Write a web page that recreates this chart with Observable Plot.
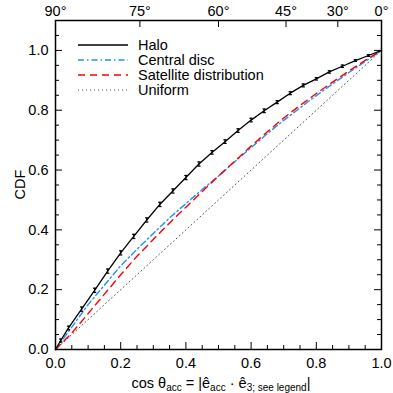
<!DOCTYPE html>
<html><head><meta charset="utf-8">
<script src="https://cdn.jsdelivr.net/npm/d3@7"></script>
<script src="https://cdn.jsdelivr.net/npm/@observablehq/plot@0.6"></script>
<style>body{margin:0;background:#fff}</style>
</head><body><div id="chart"></div>
<script>
// ---- data ----
const haloX = [0, 0.016, 0.04, 0.08, 0.12, 0.16, 0.20, 0.24, 0.28, 0.32, 0.36, 0.40, 0.44, 0.48, 0.52, 0.56, 0.60, 0.64, 0.68, 0.72, 0.76, 0.80, 0.84, 0.88, 0.92, 0.96, 1.0];
const haloY = [0, 0.030, 0.072, 0.135, 0.198, 0.262, 0.323, 0.378, 0.433, 0.485, 0.530, 0.575, 0.620, 0.659, 0.695, 0.732, 0.767, 0.798, 0.827, 0.857, 0.883, 0.905, 0.928, 0.947, 0.966, 0.983, 1.0];
const haloErr = [0, 0.005, 0.006, 0.007, 0.007, 0.007, 0.007, 0.007, 0.007, 0.007, 0.007, 0.007, 0.007, 0.006, 0.006, 0.006, 0.006, 0.006, 0.005, 0.005, 0.005, 0.004, 0.004, 0.004, 0.003, 0.003, 0];
const curveX = [0, 0.05, 0.10, 0.15, 0.20, 0.25, 0.30, 0.35, 0.40, 0.45, 0.50, 0.55, 0.60, 0.65, 0.70, 0.75, 0.80, 0.85, 0.90, 0.95, 1.0];
const discY = [0, 0.075, 0.150, 0.215, 0.280, 0.335, 0.388, 0.440, 0.488, 0.535, 0.580, 0.628, 0.675, 0.722, 0.766, 0.808, 0.849, 0.888, 0.926, 0.963, 1.0];
const satY  = [0, 0.055, 0.120, 0.185, 0.250, 0.312, 0.368, 0.423, 0.476, 0.528, 0.580, 0.630, 0.680, 0.728, 0.774, 0.816, 0.856, 0.894, 0.931, 0.967, 1.0];
const uniformX = [0, 1];
const uniformY = [0, 1];
const legendLabels = ["Halo", "Central disc", "Satellite distribution", "Uniform"];
const xMajor = [0, 0.2, 0.4, 0.6, 0.8, 1.0];
const xMinor = [0.05, 0.1, 0.15, 0.25, 0.3, 0.35, 0.45, 0.5, 0.55, 0.65, 0.7, 0.75, 0.85, 0.9, 0.95];
const yMajor = [0, 0.2, 0.4, 0.6, 0.8, 1.0];
const yMinor = [0.05, 0.1, 0.15, 0.25, 0.3, 0.35, 0.45, 0.5, 0.55, 0.65, 0.7, 0.75, 0.85, 0.9, 0.95, 1.05];
const topAngles = [90, 75, 60, 45, 30, 0];
const yLabel = "CDF";
const xLabelParts = [["cos θ", 0], ["acc", 1], [" = |ê", 0], ["acc", 1], [" · ê", 0], ["3; see legend", 1], ["|", 0]];

// ---- styling ----
const styles = [
  {stroke: "black", strokeWidth: 1.3, dash: null},
  {stroke: "#1e90ff", strokeWidth: 1.4, dash: "6,3,1.5,3"},
  {stroke: "#ff0000", strokeWidth: 1.4, dash: "7,5"},
  {stroke: "#555", strokeWidth: 1, dash: "1,3"}
];

const W = 393, H = 393, mL = 55, mR = 12, mT = 20, mB = 44;
const FH = H - mT - mB, FW = W - mL - mR;
const MAJ = 7, MIN = 4;
const FS = 14.5;

const halo = haloX.map((x, i) => ({x, y: haloY[i], e: haloErr[i]}));
const disc = curveX.map((x, i) => ({x, y: discY[i]}));
const sat = curveX.map((x, i) => ({x, y: satY[i]}));
const uni = uniformX.map((x, i) => ({x, y: uniformY[i]}));
const haloBars = halo.filter(d => d.e > 0);
const topTicks = topAngles.map(a => Math.cos(a * Math.PI / 180));

const chart = Plot.plot({
  width: W, height: H,
  marginLeft: mL, marginRight: mR, marginTop: mT, marginBottom: mB,
  x: {domain: [0, 1]},
  y: {domain: [0, 1.1]},
  style: {fontFamily: "'Liberation Sans', Arial, Helvetica, sans-serif", fontSize: FS + "px", color: "black", background: "white"},
  marks: [
    Plot.line(uni, {x: "x", y: "y", stroke: styles[3].stroke, strokeWidth: styles[3].strokeWidth, strokeDasharray: styles[3].dash}),
    Plot.line(disc, {x: "x", y: "y", stroke: styles[1].stroke, strokeWidth: styles[1].strokeWidth, strokeDasharray: styles[1].dash}),
    Plot.line(sat, {x: "x", y: "y", stroke: styles[2].stroke, strokeWidth: styles[2].strokeWidth, strokeDasharray: styles[2].dash}),
    Plot.line(halo, {x: "x", y: "y", stroke: styles[0].stroke, strokeWidth: styles[0].strokeWidth}),
    Plot.ruleX(haloBars, {x: "x", y1: d => d.y - d.e, y2: d => d.y + d.e, stroke: "black", strokeWidth: 1.2}),
    Plot.link(haloBars, {x1: d => d.x - 0.005, x2: d => d.x + 0.005, y1: d => d.y - d.e, y2: d => d.y - d.e, stroke: "black", strokeWidth: 1.2}),
    Plot.link(haloBars, {x1: d => d.x - 0.005, x2: d => d.x + 0.005, y1: d => d.y + d.e, y2: d => d.y + d.e, stroke: "black", strokeWidth: 1.2}),
    // inward ticks: bottom
    Plot.tickX(xMajor, {x: d => d, insetTop: FH - MAJ, stroke: "black"}),
    Plot.tickX(xMinor, {x: d => d, insetTop: FH - MIN, stroke: "black"}),
    // top
    Plot.tickX(topTicks, {x: d => d, insetBottom: FH - MAJ, stroke: "black"}),
    // left
    Plot.tickY(yMajor, {y: d => d, insetRight: FW - MAJ, stroke: "black"}),
    Plot.tickY(yMinor, {y: d => d, insetRight: FW - MIN, stroke: "black"}),
    // right
    Plot.tickY(yMajor, {y: d => d, insetLeft: FW - MAJ, stroke: "black"}),
    Plot.tickY(yMinor, {y: d => d, insetLeft: FW - MIN, stroke: "black"}),
    Plot.frame({stroke: "black", strokeWidth: 1.5}),
    Plot.axisX({anchor: "bottom", ticks: xMajor, tickSize: 0, tickPadding: 8, tickFormat: d3.format(".1f"), label: null}),
    Plot.axisX({anchor: "top", ticks: topTicks, tickSize: 0, tickPadding: 5, tickFormat: (d, i) => topAngles[i] + "°", label: null}),
    Plot.axisY({anchor: "left", ticks: yMajor, tickSize: 0, tickPadding: 7, tickFormat: d3.format(".1f"), label: null})
  ]
});

const svg = d3.select(chart);
const font = "'Liberation Sans', Arial, Helvetica, sans-serif";

// y label
svg.append("text").attr("transform", `translate(${21},${mT + FH / 2}) rotate(-90)`)
  .attr("text-anchor", "middle").attr("dominant-baseline", "middle")
  .attr("font-family", font).attr("font-size", FS).attr("fill", "black").text(yLabel);

// x label with subscripts
const xl = svg.append("text").attr("x", 221).attr("y", 388).attr("text-anchor", "middle")
  .attr("font-family", font).attr("font-size", FS).attr("fill", "black");
xLabelParts.forEach(([t, sub], i) => {
  const prev = i > 0 ? xLabelParts[i - 1][1] : 0;
  const ts = xl.append("tspan").text(t);
  if (sub) ts.attr("font-size", 10);
  ts.attr("dy", sub && !prev ? 3 : (!sub && prev ? -3 : 0));
});

// legend
const lg = svg.append("g");
legendLabels.forEach((lab, i) => {
  const y = 45 + i * 15;
  const s = styles[i];
  lg.append("line").attr("x1", 78).attr("x2", 128).attr("y1", y).attr("y2", y)
    .attr("stroke", s.stroke).attr("stroke-width", s.strokeWidth)
    .attr("stroke-dasharray", s.dash);
  lg.append("text").attr("x", 138).attr("y", y).attr("dy", "0.35em")
    .attr("text-anchor", "start")
    .attr("font-family", font).attr("font-size", FS).attr("fill", "black").text(lab);
});

document.getElementById("chart").appendChild(chart);
</script>
</body></html>
